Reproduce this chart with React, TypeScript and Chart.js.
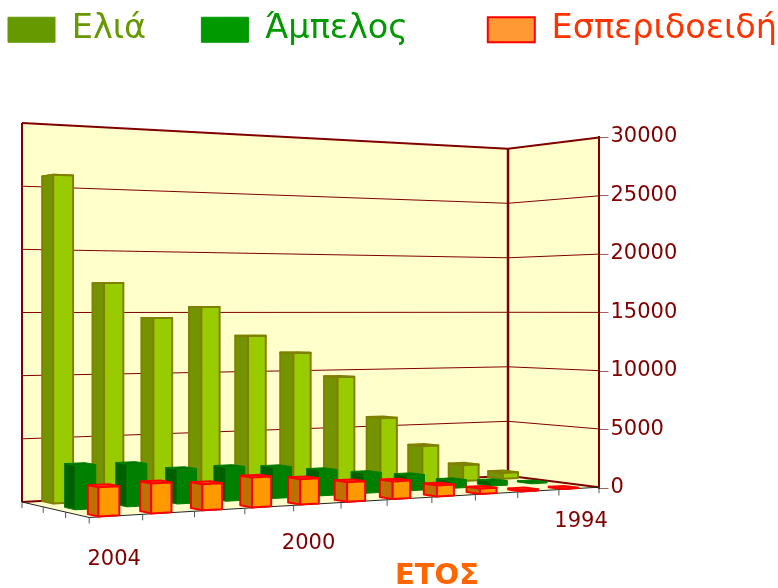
import React, { useEffect, useRef } from "react";
import { Chart, registerables } from "chart.js";

Chart.register(...registerables);

const categories = ["2004", "2003", "2002", "2001", "2000", "1999", "1998", "1997", "1996", "1995", "1994"];
const shownCategories = ["2004", "2000", "1994"];
const olive = [25830, 17360, 14550, 15450, 13040, 11570, 9470, 5830, 3250, 1400, 520];
const vine = [3370, 3280, 2700, 2690, 2500, 2080, 1660, 1290, 670, 400, 100];
const citrus = [2150, 2230, 1980, 2300, 1980, 1550, 1420, 900, 430, 100, 30];
const seriesNames = ["Ελιά", "Άμπελος", "Εσπεριδοειδή"];
const axisTitle = "ΕΤΟΣ";

const FONT = '"DejaVu Sans", Verdana, sans-serif';
const DARK = "#800000";

// camera: unit floor (u along categories, d towards the viewer, t up the value axis)
const project = (u: number, d: number, t: number) => {
  const w = 1 + 0.159 * u - 0.075 * d;
  return { x: (22 + 566.8 * u + 60.5 * d) / w, y: 311 + (191 - 379 * t) / w };
};

const styles = [
  { depth: [0.006, 0.178], shift: 0.0073, stretch: 1.008, front: "#99CC00", side: "#739400", top: "#99AA00", line: "#808000", lw: 2 },
  { depth: [0.42, 0.58], shift: -0.0007, stretch: 1.0, front: "#008000", side: "#006000", top: "#007000", line: "#008000", lw: 1 },
  { depth: [0.834, 0.98], shift: -0.0095, stretch: 0.994, front: "#FF9900", side: "#C07000", top: "#FF8000", line: "#FF0000", lw: 2 },
];
const BAR_HALF = 0.01775;
const labelNudge = [-2, -9, 2];

const poly = (ctx: CanvasRenderingContext2D, pts: { x: number; y: number }[]) => {
  ctx.beginPath();
  pts.forEach((p, i) => (i ? ctx.lineTo(p.x, p.y) : ctx.moveTo(p.x, p.y)));
  ctx.closePath();
};
const seg = (ctx: CanvasRenderingContext2D, a: { x: number; y: number }, b: { x: number; y: number }) => {
  ctx.beginPath();
  ctx.moveTo(a.x, a.y);
  ctx.lineTo(b.x, b.y);
  ctx.stroke();
};

const scene3d = {
  id: "scene3d",
  beforeLayout(chart: any) {
    const legend = chart.legend;
    if (legend && !legend._patched) {
      legend._patched = true;
      const fit = legend.fit;
      legend.fit = function () {
        fit.call(this);
        this.height = 137;
      };
      const draw = legend.draw;
      legend.draw = function () {
        chart.ctx.save();
        chart.ctx.translate(6, 11);
        draw.call(this);
        chart.ctx.restore();
      };
    }
  },
  beforeDatasetsDraw(chart: any) {
    const { ctx, chartArea, scales } = chart;
    const xs = scales.x;
    const ys = scales.y;
    const uOf = (i: number) => (xs.getPixelForValue(i) - chartArea.left) / chartArea.width;
    const tOf = (v: number) => (chartArea.bottom - ys.getPixelForValue(v)) / chartArea.height;
    ctx.save();
    ctx.lineJoin = "round";

    // walls and floor
    ctx.fillStyle = "#FFFFCC";
    poly(ctx, [project(0, 0, 0), project(1, 0, 0), project(1, 1, 0), project(0, 1, 0)]);
    ctx.fill();
    poly(ctx, [project(0, 0, 0), project(1, 0, 0), project(1, 0, 1), project(0, 0, 1)]);
    ctx.fill();
    poly(ctx, [project(1, 0, 0), project(1, 1, 0), project(1, 1, 1), project(1, 0, 1)]);
    ctx.fill();

    ctx.strokeStyle = DARK;
    ctx.lineWidth = 1;
    ys.ticks.forEach((tk: any) => {
      const t = tOf(tk.value);
      if (t <= 0 || t >= 1) return;
      seg(ctx, project(0, 0, t), project(1, 0, t));
      seg(ctx, project(1, 0, t), project(1, 1, t));
    });
    ctx.lineWidth = 2;
    seg(ctx, project(0, 0, 0), project(0, 0, 1));
    seg(ctx, project(0, 0, 1), project(1, 0, 1));
    seg(ctx, project(1, 0, 1), project(1, 1, 1));
    seg(ctx, project(1, 1, 0), project(1, 1, 1));
    seg(ctx, project(1, 0, 0), project(1, 1, 0));
    seg(ctx, project(0, 0, 0), project(1, 0, 0));
    ctx.lineWidth = 2.5;
    seg(ctx, project(1, 0, 0), project(1, 0, 1));

    // floor edges and tick marks
    ctx.strokeStyle = "#222";
    ctx.lineWidth = 1;
    seg(ctx, project(0, 0, 0), project(0, 1, 0));
    seg(ctx, project(0, 1, 0), project(1, 1, 0));
    ctx.strokeStyle = "#555";
    const tickDown = (p: { x: number; y: number }) => seg(ctx, p, { x: p.x, y: p.y + 6 });
    for (let i = 0; i <= categories.length; i++) tickDown(project(i / categories.length, 1, 0));
    for (let k = 0; k < 3; k++) tickDown(project(0, k / 3, 0));

    // bars, back row first
    chart.data.datasets.forEach((ds: any, k: number) => {
      const st = styles[k];
      const [d0, d1] = st.depth;
      ds.data.forEach((v: number, i: number) => {
        const c = uOf(i) * st.stretch + st.shift;
        const u0 = c - BAR_HALF;
        const u1 = c + BAR_HALF;
        const t = tOf(v);
        ctx.strokeStyle = st.line;
        ctx.lineWidth = st.lw;
        const face = (pts: { x: number; y: number }[], fill: string) => {
          poly(ctx, pts);
          ctx.fillStyle = fill;
          ctx.fill();
          ctx.stroke();
        };
        face([project(u0, d0, t), project(u1, d0, t), project(u1, d1, t), project(u0, d1, t)], st.top);
        face([project(u0, d0, 0), project(u0, d1, 0), project(u0, d1, t), project(u0, d0, t)], st.side);
        face([project(u0, d1, 0), project(u1, d1, 0), project(u1, d1, t), project(u0, d1, t)], st.front);
      });
    });

    // category labels and axis name
    ctx.fillStyle = DARK;
    ctx.font = `21px ${FONT}`;
    ctx.textAlign = "center";
    ctx.textBaseline = "middle";
    shownCategories.forEach((label, n) => {
      const u = uOf(categories.indexOf(label));
      const p = project(u, 1, 0);
      ctx.fillText(label, p.x + labelNudge[n], p.y + 33 + 11 * (1 - u));
    });
    ctx.fillStyle = "#FF6600";
    ctx.font = `bold 29px ${FONT}`;
    ctx.fillText(axisTitle, 437, 576);
    ctx.restore();
    return false;
  },
};

const legendFill = ["#669900", "#009900", "#FF9933"];
const legendText = ["#669900", "#009900", "#FF3300"];
const legendStroke = ["#669900", "#009900", "#FF0000"];
const legendGap = ["     ", "       \u200A", ""];

export default function App() {
  const ref = useRef<HTMLCanvasElement>(null);
  useEffect(() => {
    const chart = new Chart(ref.current as HTMLCanvasElement, {
      type: "bar",
      data: {
        labels: categories,
        datasets: [
          { label: seriesNames[0], data: olive, backgroundColor: "#99CC00", borderColor: "#808000" },
          { label: seriesNames[1], data: vine, backgroundColor: "#008000", borderColor: "#008000" },
          { label: seriesNames[2], data: citrus, backgroundColor: "#FF9900", borderColor: "#FF0000" },
        ],
      },
      options: {
        responsive: false,
        animation: false,
        layout: { padding: { left: 0, top: 0, right: 0, bottom: 100 } },
        plugins: {
          tooltip: { enabled: false },
          legend: {
            position: "top",
            align: "start",
            labels: {
              boxWidth: 47,
              boxHeight: 25,
              padding: 2,
              font: { family: FONT, size: 33.5 },
              generateLabels: (c: any) =>
                c.data.datasets.map((ds: any, i: number) => ({
                  text: ds.label + legendGap[i],
                  fillStyle: legendFill[i],
                  strokeStyle: legendStroke[i],
                  fontColor: legendText[i],
                  lineWidth: i === 2 ? 2 : 1,
                  datasetIndex: i,
                  hidden: false,
                })),
            },
          },
        },
        scales: {
          x: { display: false, stacked: false },
          y: {
            position: "right",
            min: 0,
            max: 30000,
            afterFit: (s: any) => {
              s.width = 179.5;
            },
            ticks: {
              stepSize: 5000,
              color: DARK,
              padding: 2,
              font: { family: FONT, size: 21 },
              callback: (v: any) => String(v),
            },
            grid: { drawOnChartArea: false, drawTicks: true, tickLength: 10, color: "#A06060" },
            border: { color: DARK, width: 2 },
          },
        },
      } as any,
      plugins: [scene3d as any],
    });
    return () => chart.destroy();
  }, []);
  return (
    <div style={{ position: "absolute", left: 0, top: 0, width: 778, height: 588, overflow: "hidden" }}>
      <canvas ref={ref} width={778} height={588} style={{ display: "block" }} />
    </div>
  );
}
